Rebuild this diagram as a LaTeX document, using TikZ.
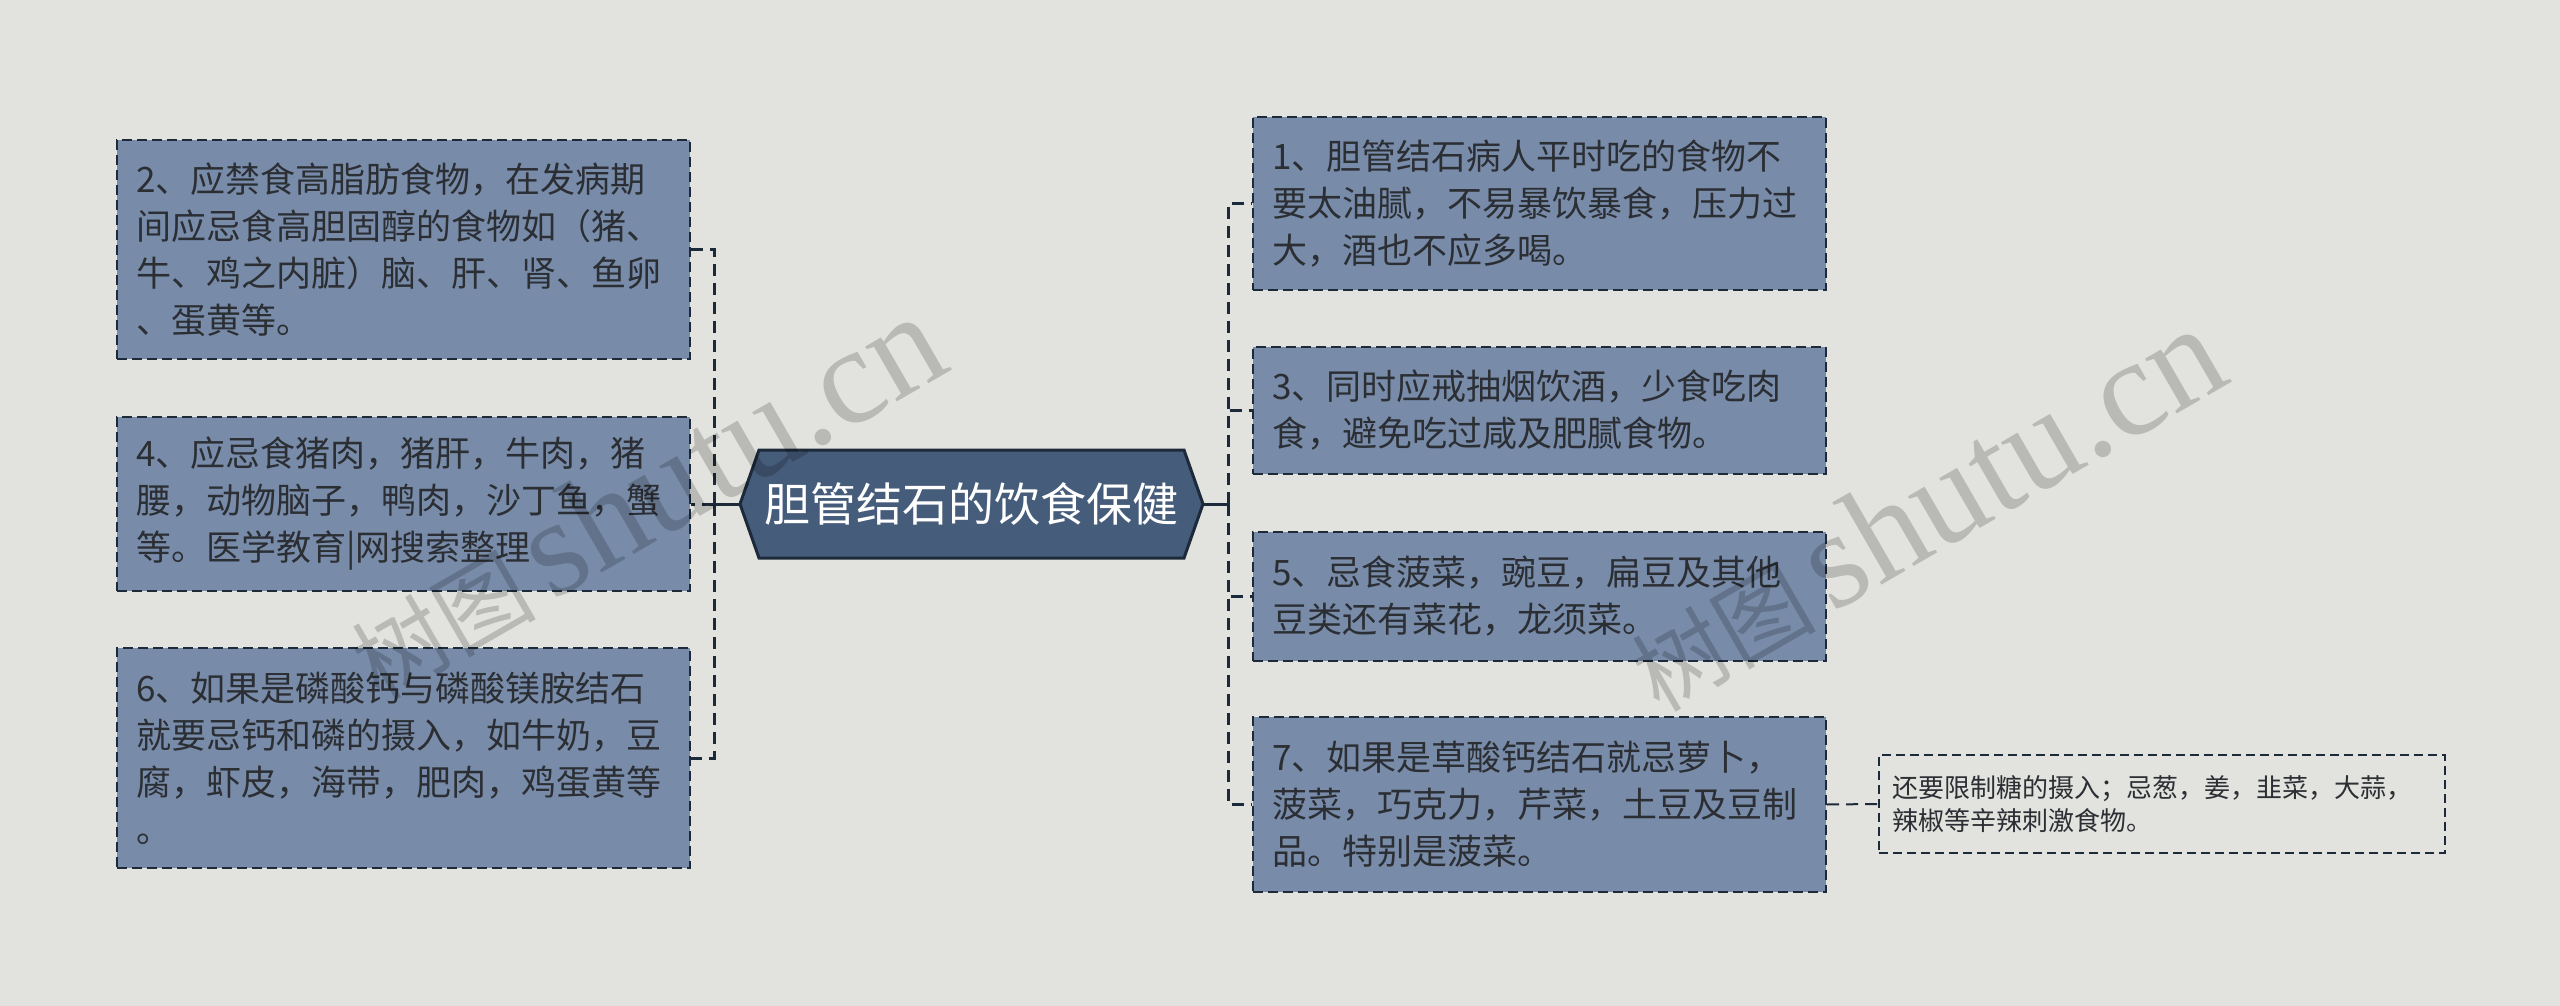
\documentclass[tikz,border=0pt]{standalone}
\usepackage{fontspec}
\setmainfont{Noto Sans CJK SC}
\newfontfamily\wmserif{Liberation Serif}
\newfontfamily\wmcjk{Noto Sans CJK SC}
\definecolor{bgc}{HTML}{E2E3DE}
\definecolor{boxfill}{HTML}{788CAA}
\definecolor{centerfill}{HTML}{465C7B}
\definecolor{edgec}{HTML}{1C2A3A}
\definecolor{txtc}{HTML}{2B2E33}
\begin{document}
\begin{tikzpicture}[x=1pt,y=-1pt,
  leaf/.style={draw=edgec, line width=2pt, dash pattern=on 10pt off 5pt,
    fill=boxfill, minimum width=573pt, text width=535pt, inner xsep=19pt,
    inner ysep=0pt, align=left, text=txtc, anchor=north west,
    font=\fontsize{35}{47}\selectfont},
  subleaf/.style={draw=edgec, line width=2pt, dash pattern=on 9pt off 5pt,
    minimum width=566pt, text width=540pt, inner xsep=13pt,
    inner ysep=0pt, align=left, text=txtc, anchor=north west,
    font=\fontsize{26}{33}\selectfont},
  hexbox/.style={draw=edgec, line width=3pt, fill=centerfill, line join=miter},
  centertext/.style={text=white, font=\fontsize{46}{50}\selectfont, inner sep=0pt},
  solidcon/.style={draw=edgec, line width=3pt},
  dashcon/.style={draw=edgec, line width=3pt, dash pattern=on 12pt off 7pt},
  wmark/.style={text=black, text opacity=0.18, rotate=30, inner sep=0pt}
]
\useasboundingbox (0,0) rectangle (2560,1006);
\fill[bgc] (0,0) rectangle (2560,1006);

% centre hexagon
\coordinate (cL) at (740,504);
\coordinate (cR) at (1203,504);
\filldraw[hexbox] (cL) -- (759,450) -- (1184,450) -- (cR) -- (1184,558) -- (759,558) -- cycle;
\node[centertext] (center) at (971.5,504) {胆管结石的饮食保健};

% right branches
\node[leaf, minimum height=173pt] (b1) at (1252,116) {1、胆管结石病人平时吃的食物不\\要太油腻，不易暴饮暴食，压力过\\大，酒也不应多喝。};
\node[leaf, minimum height=127pt] (b3) at (1252,346) {3、同时应戒抽烟饮酒，少食吃肉\\食，避免吃过咸及肥腻食物。};
\node[leaf, minimum height=129pt] (b5) at (1252,531) {5、忌食菠菜，豌豆，扁豆及其他\\豆类还有菜花，龙须菜。};
\node[leaf, minimum height=175pt] (b7) at (1252,716) {7、如果是草酸钙结石就忌萝卜，\\菠菜，巧克力，芹菜，土豆及豆制\\品。特别是菠菜。};
\node[subleaf, minimum height=98pt] (sub) at (1878,754) {还要限制糖的摄入；忌葱，姜，韭菜，大蒜，\\辣椒等辛辣刺激食物。};

% left branches
\node[leaf, minimum height=219pt] (b2) at (116,139) {2、应禁食高脂肪食物，在发病期\\间应忌食高胆固醇的食物如（猪、\\牛、鸡之内脏）脑、肝、肾、鱼卵\\、蛋黄等。};
\node[leaf, minimum height=174pt] (b4) at (116,416) {4、应忌食猪肉，猪肝，牛肉，猪\\腰，动物脑子，鸭肉，沙丁鱼，蟹\\等。医学教育|网搜索整理};
\node[leaf, minimum height=220pt] (b6) at (116,647) {6、如果是磷酸钙与磷酸镁胺结石\\就要忌钙和磷的摄入，如牛奶，豆\\腐，虾皮，海带，肥肉，鸡蛋黄等\\。};

% connectors
\coordinate (busR) at (1228,504);
\coordinate (busL) at (714,504);
\draw[solidcon] (cR) -- (busR);
\draw[solidcon] (cL) -- (busL);
\foreach \b in {b1,b3,b5,b7} \draw[dashcon] (busR) |- (\b.west);
\foreach \b in {b2,b4,b6} \draw[dashcon] (busL) |- (\b.east);
\draw[dashcon, line width=2pt] (b7.east) -- (sub.west);

% watermarks
\node[wmark] (wm1) at (645,497) {\fontsize{92}{100}\selectfont\wmcjk 树图\,\wmserif\fontsize{138}{150}\selectfont shutu.cn};
\node[wmark] (wm2) at (1925,509) {\fontsize{92}{100}\selectfont\wmcjk 树图\,\wmserif\fontsize{138}{150}\selectfont shutu.cn};
\end{tikzpicture}
\end{document}
